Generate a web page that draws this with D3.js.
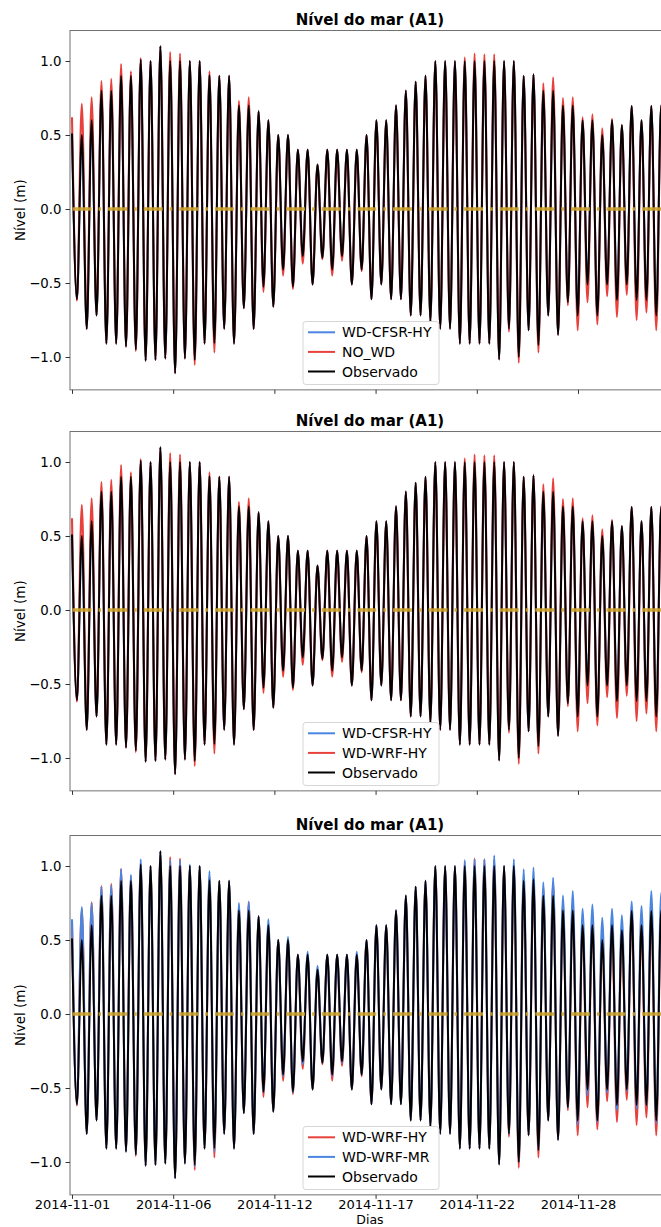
<!DOCTYPE html>
<html><head><meta charset="utf-8">
<script src="https://cdn.jsdelivr.net/npm/d3@7/dist/d3.min.js"></script>
<style>
body{margin:0;background:#fff}
svg{display:block}
text{font-family:"DejaVu Sans",sans-serif;fill:#000}
</style>
</head><body>
<svg id="c" width="661" height="1227"></svg>
<script>
// ---------- DATA (tidal extremes, one high + one low per 12.42 h tide) ----------
const halfPeriodHours = 6.21;   // time between successive extremes

const obsHigh = [0.51,0.50,0.60,0.80,0.80,0.90,0.90,1.01,1.00,1.10,
  1.00,1.00,1.00,1.00,0.905,0.90,0.90,0.70,0.70,0.66,
  0.60,0.50,0.50,0.40,0.40,0.30,0.40,0.40,0.40,0.40,
  0.50,0.60,0.60,0.70,0.80,0.86,0.90,1.00,1.00,1.00,
  1.00,1.00,1.00,1.00,1.00,1.00,0.90,0.91,0.80,0.80,
  0.70,0.70,0.60,0.60,0.50,0.60,0.567,0.696,0.60,0.696,
  0.70];
const obsLow = [-0.61,-0.81,-0.72,-0.91,-0.91,-0.93,-0.95,-1.025,-1.02,-1.01,
  -1.11,-1.01,-1.02,-0.91,-0.906,-0.81,-0.91,-0.67,-0.81,-0.525,
  -0.66,-0.41,-0.525,-0.32,-0.51,-0.33,-0.41,-0.32,-0.51,-0.41,
  -0.61,-0.51,-0.61,-0.61,-0.72,-0.72,-0.76,-0.81,-0.81,-0.91,
  -0.91,-0.91,-0.91,-1.016,-0.81,-1.00,-0.82,-0.92,-0.72,-0.85,
  -0.63,-0.72,-0.51,-0.72,-0.51,-0.615,-0.51,-0.615,-0.615,-0.72,
  -0.62];

const noWdHigh = [0.62,0.71,0.755,0.865,0.88,0.98,0.93,1.02,1.00,1.10,
  1.06,1.05,1.00,1.00,0.93,0.90,0.90,0.73,0.755,0.66,
  0.60,0.50,0.50,0.40,0.40,0.30,0.40,0.40,0.40,0.40,
  0.50,0.60,0.60,0.70,0.80,0.86,0.90,1.00,1.00,1.00,
  1.025,1.05,1.045,1.045,1.00,1.00,0.90,0.91,0.85,0.89,
  0.75,0.755,0.62,0.64,0.545,0.61,0.567,0.696,0.60,0.696,
  0.70];
const noWdLow = [-0.62,-0.81,-0.72,-0.91,-0.91,-0.93,-0.96,-1.025,-1.02,-1.01,
  -1.11,-1.01,-1.054,-0.91,-0.97,-0.81,-0.91,-0.67,-0.81,-0.56,
  -0.66,-0.45,-0.54,-0.37,-0.51,-0.34,-0.45,-0.35,-0.51,-0.42,
  -0.61,-0.51,-0.61,-0.61,-0.72,-0.72,-0.76,-0.81,-0.81,-0.91,
  -0.91,-0.91,-0.91,-1.016,-0.83,-1.04,-0.82,-0.97,-0.72,-0.85,
  -0.65,-0.82,-0.63,-0.78,-0.59,-0.73,-0.58,-0.75,-0.70,-0.82,
  -0.75];

const wrfHyHigh = [0.62,0.71,0.755,0.865,0.88,0.98,0.93,1.02,1.00,1.10,
  1.06,1.05,1.00,1.00,0.93,0.90,0.90,0.73,0.755,0.66,
  0.60,0.50,0.50,0.40,0.40,0.30,0.40,0.40,0.40,0.40,
  0.50,0.60,0.60,0.70,0.80,0.86,0.90,1.00,1.00,1.00,
  1.025,1.05,1.045,1.045,1.00,1.00,0.90,0.91,0.85,0.89,
  0.75,0.755,0.62,0.64,0.545,0.61,0.567,0.696,0.60,0.696,
  0.70];
const wrfHyLow = [-0.62,-0.81,-0.72,-0.91,-0.91,-0.93,-0.96,-1.025,-1.02,-1.01,
  -1.11,-1.01,-1.054,-0.91,-0.97,-0.81,-0.91,-0.67,-0.81,-0.56,
  -0.66,-0.45,-0.54,-0.37,-0.51,-0.34,-0.45,-0.35,-0.51,-0.42,
  -0.61,-0.51,-0.61,-0.61,-0.72,-0.72,-0.76,-0.81,-0.81,-0.91,
  -0.91,-0.91,-0.91,-1.016,-0.83,-1.04,-0.82,-0.97,-0.72,-0.85,
  -0.65,-0.82,-0.63,-0.78,-0.59,-0.73,-0.58,-0.75,-0.70,-0.82,
  -0.75];

const wrfMrHigh = [0.64,0.723,0.75,0.86,0.87,0.98,0.94,1.045,1.00,1.10,
  1.04,1.04,1.01,1.00,0.966,0.90,0.90,0.75,0.76,0.66,
  0.64,0.50,0.52,0.40,0.42,0.324,0.40,0.40,0.40,0.42,
  0.50,0.60,0.60,0.70,0.80,0.86,0.90,1.00,1.00,1.00,
  1.04,1.045,1.045,1.07,1.00,1.045,0.977,0.99,0.89,0.92,
  0.80,0.83,0.71,0.74,0.65,0.71,0.667,0.76,0.73,0.83,
  0.82];
const wrfMrLow = [-0.61,-0.81,-0.72,-0.91,-0.91,-0.93,-0.95,-1.025,-1.02,-1.01,
  -1.11,-1.01,-1.03,-0.91,-0.93,-0.81,-0.91,-0.67,-0.81,-0.53,
  -0.66,-0.42,-0.53,-0.34,-0.51,-0.33,-0.42,-0.33,-0.51,-0.41,
  -0.61,-0.51,-0.61,-0.61,-0.72,-0.72,-0.76,-0.81,-0.81,-0.91,
  -0.91,-0.91,-0.91,-1.016,-0.81,-1.00,-0.82,-0.92,-0.72,-0.85,
  -0.63,-0.75,-0.55,-0.73,-0.53,-0.65,-0.52,-0.64,-0.62,-0.74,
  -0.63];

// WD-CFSR-HY is entirely hidden beneath the other curves in the picture
const cfsrHigh = obsHigh;
const cfsrLow = obsLow;

const refLevel = [0, 0];                 // dash-dot reference line at 0 m
const tickHours = [0, 128, 256, 384, 512, 640];
const tickLabels = ["2014-11-01","2014-11-06","2014-11-12","2014-11-17","2014-11-22","2014-11-28"];
const yTickValues = [-1.0, -0.5, 0.0, 0.5, 1.0];

// ---------- DRAWING ----------
const BLUE = "#4a86e0", RED = "#e8413c", BLACK = "#000", GOLD = "#cda32a";

function toSeries(high, low) {
  const pts = [];
  for (let k = 0; k < high.length; k++) {
    pts.push({ t: 2 * k * halfPeriodHours, v: high[k] });
    if (k < low.length) pts.push({ t: (2 * k + 1) * halfPeriodHours, v: low[k] });
  }
  return pts;
}
const S = {
  obs: toSeries(obsHigh, obsLow),
  noWd: toSeries(noWdHigh, noWdLow),
  wrfHy: toSeries(wrfHyHigh, wrfHyLow),
  wrfMr: toSeries(wrfMrHigh, wrfMrLow),
  cfsr: toSeries(cfsrHigh, cfsrLow)
};
const tEnd = S.obs[S.obs.length - 1].t;

const svg = d3.select("#c");
const left = 70, right = 670;
const x = d3.scaleLinear().domain([-2.53, 756.4]).range([left, right]);

const panels = [
  { zero: 209, draw: [["cfsr", BLUE], ["noWd", RED]],
    legend: [["WD-CFSR-HY", BLUE], ["NO_WD", RED], ["Observado", BLACK]], xlabels: false },
  { zero: 610, draw: [["cfsr", BLUE], ["wrfHy", RED]],
    legend: [["WD-CFSR-HY", BLUE], ["WD-WRF-HY", RED], ["Observado", BLACK]], xlabels: false },
  { zero: 1014, draw: [["wrfHy", RED], ["wrfMr", BLUE]],
    legend: [["WD-WRF-HY", RED], ["WD-WRF-MR", BLUE], ["Observado", BLACK]], xlabels: true }
];

panels.forEach((p, i) => {
  const top = p.zero - 1.206 * 148, bottom = p.zero + 1.222 * 148;
  const y = d3.scaleLinear().domain([-1.222, 1.206]).range([bottom, top]);
  const g = svg.append("g");
  const clipId = "clip" + i;
  svg.append("clipPath").attr("id", clipId).append("rect")
    .attr("x", left).attr("y", top).attr("width", right - left).attr("height", bottom - top);

  const line = d3.line().x(d => x(d.t)).y(d => y(d.v)).curve(d3.curveMonotoneX);
  const plot = g.append("g").attr("clip-path", `url(#${clipId})`);

  p.draw.forEach(([key, col]) => {
    plot.append("path").datum(S[key]).attr("d", line)
      .attr("fill", "none").attr("stroke", col).attr("stroke-width", 2.1).attr("stroke-linejoin", "round");
  });
  plot.append("path").datum(S.obs).attr("d", line)
    .attr("fill", "none").attr("stroke", BLACK).attr("stroke-width", 1.9).attr("stroke-linejoin", "round");
  // reference line at 0
  plot.append("path").datum([{ t: 0, v: refLevel[0] }, { t: tEnd, v: refLevel[1] }])
    .attr("d", d3.line().x(d => x(d.t)).y(d => y(d.v)))
    .attr("fill", "none").attr("stroke", GOLD).attr("stroke-width", 3.6).attr("stroke-opacity", 0.88)
    .attr("stroke-dasharray", "19,7,2.6,7").attr("stroke-dashoffset", -0.5);

  // frame
  g.append("rect").attr("x", left).attr("y", top).attr("width", right - left).attr("height", bottom - top)
    .attr("fill", "none").attr("stroke", "#707070").attr("stroke-width", 1);

  // y axis
  const ya = g.append("g").attr("transform", `translate(${left},0)`)
    .call(d3.axisLeft(y).tickValues(yTickValues).tickSize(4.5).tickPadding(4)
      .tickFormat(v => d3.format(".1f")(v).replace("-", "\u2212")));
  ya.select(".domain").remove();
  ya.selectAll("line").attr("stroke", "#333");
  ya.selectAll("text").attr("font-size", 13.3).attr("font-family", "DejaVu Sans");

  // x axis
  const xa = g.append("g").attr("transform", `translate(0,${bottom})`)
    .call(d3.axisBottom(x).tickValues(tickHours).tickSize(4).tickPadding(1)
      .tickFormat((d, j) => p.xlabels ? tickLabels[j] : ""));
  xa.select(".domain").remove();
  xa.selectAll("line").attr("stroke", "#333");
  xa.selectAll("text").attr("font-size", 13).attr("font-family", "DejaVu Sans");

  // title
  g.append("text").attr("x", (left + right) / 2).attr("y", top - 6)
    .attr("text-anchor", "middle").attr("font-size", 15).attr("font-weight", "bold")
    .text("Nível do mar (A1)");

  // y label
  g.append("text").attr("transform", `translate(25,${(top + bottom) / 2}) rotate(-90)`)
    .attr("text-anchor", "middle").attr("font-size", 13.5).text("Nível (m)");

  // legend
  const lg = g.append("g").attr("transform", `translate(303,${p.zero + 112.5})`);
  lg.append("rect").attr("width", 136).attr("height", 63).attr("rx", 3)
    .attr("fill", "#fff").attr("fill-opacity", 0.85).attr("stroke", "#d6d6d6");
  p.legend.forEach(([name, col], j) => {
    const ry = 10.8 + j * 19.6;
    lg.append("line").attr("x1", 5).attr("x2", 32).attr("y1", ry).attr("y2", ry)
      .attr("stroke", col).attr("stroke-width", 2);
    lg.append("text").attr("x", 39).attr("y", ry).attr("dy", "0.36em")
      .attr("font-size", 14).text(name);
  });

  if (p.xlabels) {
    g.append("text").attr("x", (left + right) / 2).attr("y", 1224)
      .attr("text-anchor", "middle").attr("font-size", 12.5).text("Dias");
  }
});
</script>
</body></html>
